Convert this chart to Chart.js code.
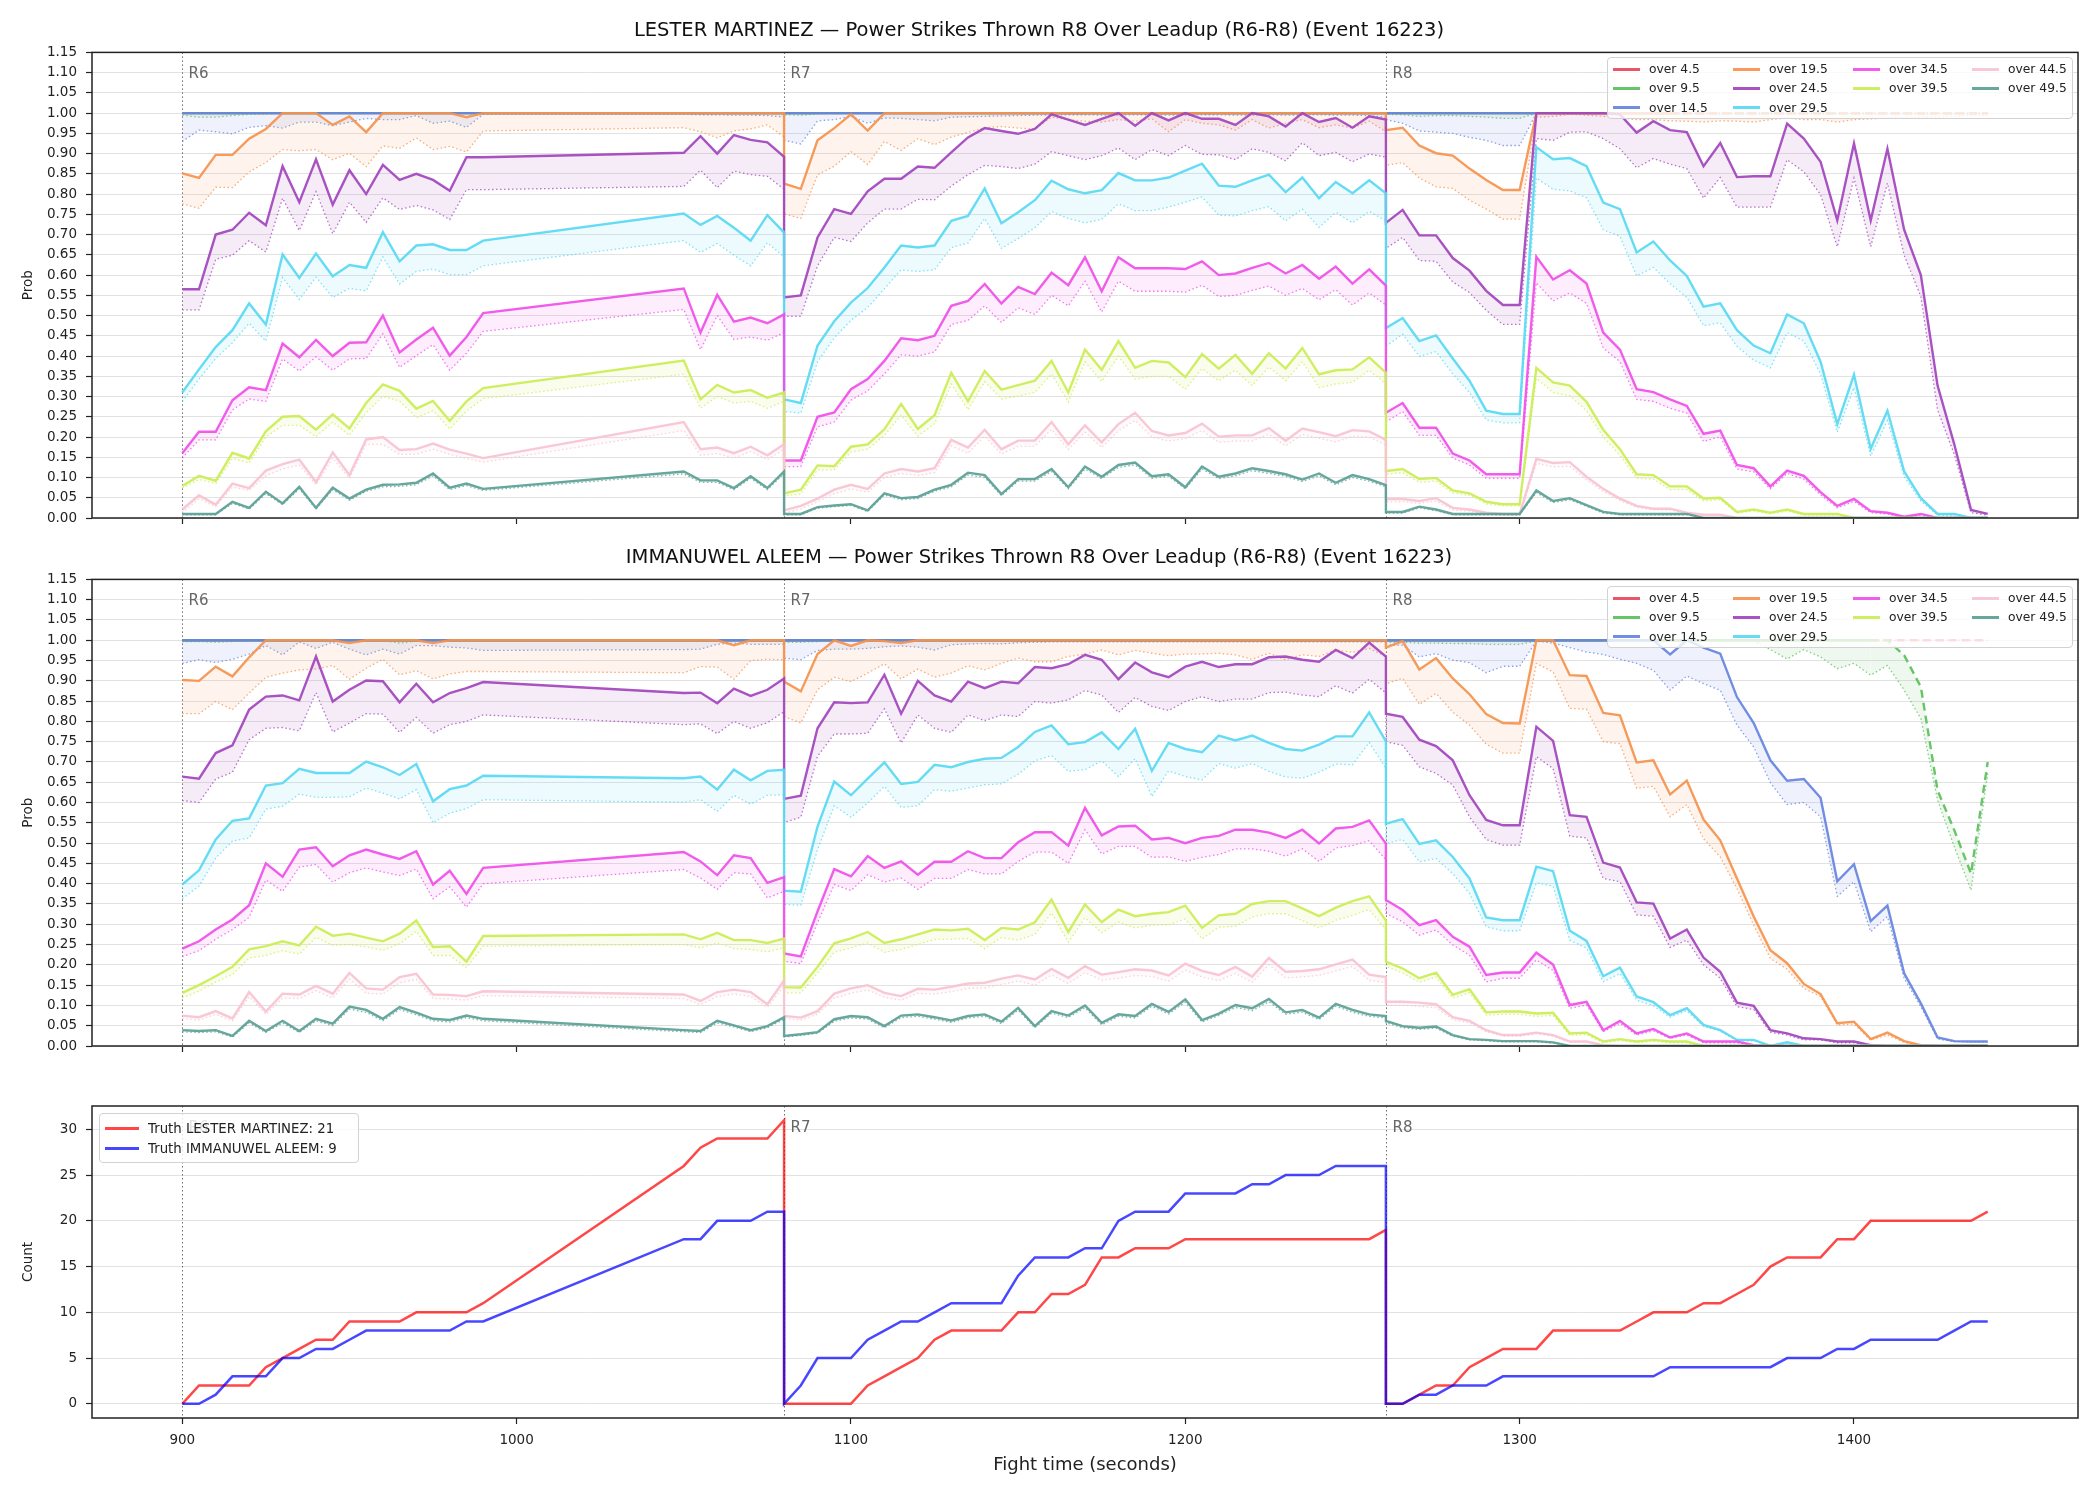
<!DOCTYPE html>
<html>
<head>
<meta charset="utf-8">
<title>Power Strikes Thrown R8 Over Leadup</title>
<script src="https://cdn.jsdelivr.net/npm/chart.js@4.4.1/dist/chart.umd.min.js"></script>
<style>
  body { margin: 0; background: #fff; font-family: "DejaVu Sans", sans-serif; }
  #page { position: relative; width: 2100px; height: 1500px; overflow: hidden; }
  .panel { position: absolute; left: 0; }
  .legend { position: absolute; z-index: 2; box-sizing: border-box; background: rgba(255,255,255,0.8);
            border: 1px solid #d2d2d2; border-radius: 4px; color: #222; display: grid; }
  .legend .item { display: flex; align-items: center; white-space: nowrap; }
  .legend .swatch { height: 3px; margin-right: 9px; }
  #warn { position: absolute; left: 4px; top: 4px; color: red; font-size: 12px; z-index: 5; }
</style>
</head>
<body>
<div id="page">
  <div class="panel" style="top:0"><canvas id="lesterChart" width="2100" height="560"></canvas></div>
  <div class="panel" style="top:527px"><canvas id="aleemChart" width="2100" height="543"></canvas></div>
  <div class="panel" style="top:1070px"><canvas id="truthChart" width="2100" height="430"></canvas></div>
  <div class="legend" id="lesterLegend" style="left:1607px; top:57px; width:466px; height:62px"></div>
  <div class="legend" id="aleemLegend" style="left:1607px; top:586px; width:466px; height:62px"></div>
  <div class="legend" id="truthLegend" style="left:99px; top:1113px; width:260px; height:50px"></div>
  <div id="warn"></div>
</div>
<script>
// sample times (seconds), one list per round
const timesR6 = [900,905,910,915,920,925,930,935,940,945,950,955,960,965,970,975,980,985,990,
                 1050,1055,1060,1065,1070,1075,1080];
const timesR7 = [1080,1085,1090,1095,1100,1105,1110,1115,1120,1125,1130,1135,1140,1145,1150,1155,1160,1165,1170,1175,
                 1180,1185,1190,1195,1200,1205,1210,1215,1220,1225,1230,1235,1240,1245,1250,1255,1260];
const timesR8 = [1260,1265,1270,1275,1280,1285,1290,1295,1300,1305,1310,1315,1320,1325,1330,1335,1340,1345,1350,1355,
                 1360,1365,1370,1375,1380,1385,1390,1395,1400,1405,1410,1415,1420,1425,1430,1435,1440];
const fightTimes = timesR6.concat(timesR7, timesR8);

const thresholds = ['over 4.5','over 9.5','over 14.5','over 19.5','over 24.5','over 29.5','over 34.5','over 39.5','over 44.5','over 49.5'];
const lineColors = ['#e8475f','#5bbf5b','#6684e0','#f5934d','#a244bd','#58d9f2','#f04ee9','#cbee55','#f8c3d1','#5a9f95'];
const roundStarts = [900, 1080, 1260];
const roundLabels = ['R6', 'R7', 'R8'];
const timeTicks = [900, 1000, 1100, 1200, 1300, 1400];
const probTicks = [0,0.05,0.1,0.15,0.2,0.25,0.3,0.35,0.4,0.45,0.5,0.55,0.6,0.65,0.7,0.75,0.8,0.85,0.9,0.95,1,1.05,1.1,1.15];
const countTicks = [0, 5, 10, 15, 20, 25, 30];

// ---- LESTER MARTINEZ: line (solid) and lower estimate (dotted) ----
const lm4 = [1,1,1,1,1, 1,1,1,1,1, 1,1,1,1,1, 1,1,1,1, 1,1,1,1,1,1,1,
  1,1,1,1,1,1,1,1,1,1, 1,1,1,1,1,1,1,1,1,1, 1,1,1,1,1,1,1,1,1,1, 1,1,1,1,1,1,1,
  1,1,1,1,1,1,1,1,1,1, 1,1,1,1,1,1,1,1,1,1, 1,1,1,1,1,1,1,1,1,1, 1,1,1,1,1,1,1];
const lm4Lo = [1,1,1,1,1, 1,1,1,1,1, 1,1,1,1,1, 1,1,1,1, 1,1,1,1,1,1,1,
  1,1,1,1,1,1,1,1,1,1, 1,1,1,1,1,1,1,1,1,1, 1,1,1,1,1,1,1,1,1,1, 1,1,1,1,1,1,1,
  1,1,1,1,1,1,1,1,1,1, 1,1,1,1,1,1,1,1,1,1, 1,1,1,1,1,1,1,1,1,1, 1,1,1,1,1,1,1];
const lm9 = [1,1,1,1,1, 1,1,1,1,1, 1,1,1,1,1, 1,1,1,1, 1,1,1,1,1,1,1,
  1,1,1,1,1,1,1,1,1,1, 1,1,1,1,1,1,1,1,1,1, 1,1,1,1,1,1,1,1,1,1, 1,1,1,1,1,1,1,
  1,1,1,1,1,1,1,1,1,1, 1,1,1,1,1,1,1,1,1,1, 1,1,1,1,1,1,1,1,1,1, 1,1,1,1,1,1,1];
const lm9Lo = [0.995,0.99,0.99,0.994,0.997,0.998,1,1,1,1,1,1,1,1,1,1,1,1,1, 1,1,1,1,1,1,0.998,
  0.996,0.995,0.998, 1,1,1,1,1,1,1, 1,1,1,1,1,1,1,1,1,1, 1,1,1,1,1,1,1,1,1,1, 1,1,1,1,1,1,1,
  0.997,0.996,0.992,0.994,0.994,0.992,0.99,0.987,0.987, 1,1,1,1,1,1,1,1,1,1, 1,1,1,1,1,1,1,1,1,1, 1,1,1,1,1,1,1,1];
const lm14 = [1,1,1,1,1, 1,1,1,1,1, 1,1,1,1,1, 1,1,1,1, 1,1,1,1,1,1,1,
  1,1,1,1,1,1,1,1,1,1, 1,1,1,1,1,1,1,1,1,1, 1,1,1,1,1,1,1,1,1,1, 1,1,1,1,1,1,1,
  1,1,1,1,1,1,1,1,1,1, 1,1,1,1,1,1,1,1,1,1, 1,1,1,1,1,1,1,1,1,1, 1,1,1,1,1,1,1];
const lm14Lo = [0.93,0.958,0.954,0.949,0.965,0.969,0.963,0.978,0.978,0.969,0.978,0.987,0.984,0.984,0.994,0.975,0.98,0.965,0.997,
  0.997,0.996,0.996,0.995,0.995,0.994,0.99,
  0.933,0.924,0.981,0.984,0.992,0.975,0.988,0.987,0.984,0.981, 0.99,0.991,0.992,0.993,0.994,0.995,0.995,0.996,0.996,0.995,
  0.995,0.996,0.996,0.995,0.995,0.996,0.996,0.995,0.995,0.996, 0.995,0.995,0.996,0.995,0.995,0.994,0.99,
  0.984,0.975,0.956,0.953,0.95,0.94,0.933,0.92,0.92,1, 0.998,0.998,0.998,0.998,0.998,0.998,0.998,0.998,0.998,0.998,
  0.998,0.998,0.998,0.998,0.998,0.998,0.998,0.998,0.998,0.998, 0.998,0.998,0.998,0.998,0.998,0.998,0.998];
const lm19 = [0.851,0.84,0.897,0.897,0.937,0.961,1,1,1,0.971,0.992,0.953,1,1,1,1,1,0.99,1, 1,1,1,1,1,1,1,
  0.826,0.813,0.933,0.963,0.997,0.957,1, 1,1,1,1,1,1,1,1,1,1, 1,1,1,1,1,1,1,1,1,1, 1,1,1,1,1,1,1,1,1,1,
  0.958,0.964,0.92,0.901,0.895,0.863,0.835,0.81,0.81, 1,1,1,1,1,1,1,1,1,1, 1,1,1,1,1,1,1,1,1,1, 1,1,1,1,1,1,1,1];
const lm19Lo = [0.776,0.765,0.817,0.816,0.855,0.878,0.91,0.907,0.91,0.885,0.901,0.868,0.919,0.913,0.939,0.91,0.918,0.904,0.956,
  0.964,0.954,0.939,0.956,0.961,0.971,0.941,
  0.751,0.74,0.848,0.869,0.905,0.873,0.93,0.908,0.937,0.922,0.941,0.952,0.964,0.967,0.963,0.961,0.99,0.984,0.98,0.978,
  0.984,0.98,0.986,0.954,0.984,0.975,0.971,0.958,0.984,0.963,0.975,0.984,0.964,0.971,0.963,0.98,0.954,
  0.871,0.878,0.84,0.818,0.814,0.785,0.763,0.738,0.738,0.99,0.992,0.997,0.995,0.992,0.988,0.984,0.984,0.981,0.98,0.978,
  0.981,0.98,0.978,0.984,0.988,0.984,0.984,0.978,0.984,0.986,0.988,0.988,0.99,0.99,0.992,0.994,0.995];
const lm24 = [0.565,0.565,0.70,0.712,0.754,0.723,0.869,0.78,0.886,0.774,0.859,0.80,0.872,0.835,0.85,0.835,0.808,0.891,0.891,
  0.902,0.943,0.90,0.946,0.934,0.928,0.892,
  0.545,0.55,0.693,0.763,0.751,0.807,0.838,0.838,0.868,0.865,0.903,0.94,0.963,0.956,0.949,0.961,0.997,0.984,0.971,0.986,
  1,0.969,1,0.982,1,0.986,0.986,0.971,1,0.992,0.967,1,0.978,0.988,0.964,0.992,0.984,
  0.729,0.761,0.698,0.698,0.642,0.611,0.561,0.526,0.526,1,1,1,1,1,0.997,0.952,0.98,0.958,0.953,0.869,
  0.926,0.842,0.844,0.844,0.974,0.937,0.88,0.735,0.925,0.735,0.912,0.712,0.60,0.327,0.182,0.02,0.01];
const lm24Lo = [0.514,0.514,0.639,0.649,0.685,0.657,0.79,0.71,0.806,0.702,0.78,0.73,0.791,0.762,0.772,0.761,0.737,0.811,0.811,
  0.819,0.859,0.816,0.857,0.848,0.844,0.812,
  0.498,0.498,0.623,0.693,0.683,0.729,0.763,0.763,0.787,0.786,0.82,0.848,0.871,0.868,0.863,0.874,0.905,0.895,0.885,0.895,
  0.914,0.885,0.91,0.895,0.92,0.898,0.897,0.885,0.912,0.903,0.882,0.927,0.895,0.903,0.88,0.899,0.891,
  0.666,0.693,0.636,0.634,0.583,0.557,0.513,0.478,0.478,0.937,0.933,0.953,0.954,0.937,0.912,0.865,0.888,0.874,0.863,0.79,
  0.841,0.768,0.768,0.768,0.885,0.855,0.799,0.67,0.84,0.67,0.827,0.649,0.547,0.267,0.157,0.013,0.007];
const lm29 = [0.31,0.367,0.422,0.464,0.53,0.478,0.651,0.593,0.653,0.597,0.625,0.618,0.706,0.634,0.673,0.676,0.662,0.662,0.685,
  0.752,0.724,0.746,0.717,0.685,0.748,0.705,
  0.293,0.284,0.426,0.486,0.532,0.568,0.619,0.673,0.668,0.673,0.734,0.746,0.814,0.728,0.755,0.785,0.833,0.812,0.802,0.81,
  0.852,0.834,0.834,0.841,0.858,0.875,0.821,0.818,0.834,0.848,0.805,0.841,0.79,0.83,0.802,0.834,0.802,
  0.469,0.494,0.437,0.451,0.394,0.339,0.265,0.257,0.257,0.916,0.886,0.889,0.869,0.779,0.763,0.656,0.683,0.636,0.598,0.522,
  0.53,0.464,0.426,0.407,0.503,0.481,0.386,0.232,0.354,0.171,0.265,0.115,0.049,0.01,0.01,0,0];
const lm29Lo = [0.288,0.343,0.394,0.433,0.481,0.437,0.594,0.54,0.595,0.545,0.567,0.561,0.645,0.578,0.609,0.615,0.601,0.601,0.623,
  0.685,0.656,0.678,0.649,0.623,0.68,0.645,
  0.263,0.259,0.386,0.445,0.488,0.52,0.566,0.613,0.609,0.613,0.668,0.679,0.74,0.666,0.69,0.717,0.757,0.74,0.729,0.738,
  0.776,0.759,0.759,0.768,0.78,0.793,0.748,0.746,0.759,0.769,0.734,0.763,0.718,0.755,0.729,0.757,0.734,
  0.424,0.454,0.399,0.411,0.356,0.31,0.242,0.235,0.235,0.84,0.812,0.808,0.791,0.712,0.696,0.598,0.619,0.579,0.545,0.475,
  0.482,0.424,0.39,0.371,0.458,0.437,0.356,0.212,0.322,0.153,0.241,0.102,0.042,0.007,0.005,0,0];
const lm34 = [0.16,0.213,0.213,0.291,0.323,0.316,0.431,0.397,0.44,0.40,0.433,0.434,0.50,0.409,0.441,0.47,0.401,0.447,0.506,
  0.567,0.458,0.551,0.485,0.495,0.481,0.503,
  0.142,0.142,0.25,0.261,0.318,0.343,0.388,0.444,0.439,0.45,0.524,0.536,0.578,0.53,0.571,0.553,0.606,0.575,0.644,0.56,
  0.644,0.617,0.617,0.617,0.615,0.634,0.60,0.604,0.618,0.63,0.604,0.625,0.591,0.621,0.579,0.614,0.574,
  0.26,0.284,0.223,0.223,0.159,0.142,0.108,0.108,0.108,0.645,0.589,0.612,0.579,0.458,0.416,0.318,0.311,0.293,0.277,0.208,
  0.216,0.131,0.123,0.078,0.117,0.104,0.064,0.03,0.047,0.017,0.013,0.003,0.01,0,0,0,0];
const lm34Lo = [0.148,0.193,0.193,0.267,0.294,0.288,0.393,0.363,0.398,0.365,0.393,0.394,0.455,0.372,0.401,0.428,0.365,0.407,0.461,
  0.515,0.416,0.50,0.441,0.447,0.439,0.458,
  0.127,0.127,0.225,0.237,0.291,0.314,0.356,0.403,0.40,0.41,0.478,0.488,0.524,0.483,0.519,0.503,0.55,0.524,0.585,0.509,
  0.585,0.56,0.56,0.56,0.558,0.575,0.547,0.55,0.562,0.573,0.55,0.567,0.539,0.564,0.526,0.556,0.526,
  0.237,0.263,0.204,0.204,0.148,0.131,0.098,0.098,0.098,0.581,0.536,0.556,0.53,0.42,0.386,0.293,0.288,0.271,0.259,0.189,
  0.201,0.121,0.114,0.072,0.11,0.096,0.057,0.025,0.041,0.013,0.01,0.002,0.007,0,0,0,0];
const lm39 = [0.079,0.104,0.092,0.161,0.147,0.214,0.25,0.252,0.218,0.256,0.221,0.284,0.33,0.314,0.27,0.289,0.24,0.288,0.321,
  0.389,0.293,0.329,0.31,0.316,0.297,0.31,
  0.061,0.07,0.13,0.128,0.176,0.182,0.219,0.282,0.22,0.254,0.359,0.288,0.363,0.317,0.328,0.339,0.388,0.31,0.416,0.366,
  0.437,0.371,0.388,0.384,0.348,0.405,0.369,0.403,0.356,0.407,0.369,0.42,0.355,0.365,0.367,0.397,0.359,
  0.116,0.121,0.096,0.099,0.068,0.061,0.04,0.034,0.034,0.371,0.335,0.327,0.287,0.218,0.17,0.108,0.106,0.078,0.078,0.048,
  0.05,0.015,0.021,0.013,0.021,0.01,0.01,0.01,0,0,0,0,0,0,0,0,0];
const lm39Lo = [0.074,0.095,0.085,0.147,0.136,0.20,0.229,0.229,0.201,0.237,0.204,0.26,0.30,0.289,0.248,0.265,0.22,0.264,0.295,
  0.355,0.271,0.30,0.284,0.288,0.271,0.288,
  0.055,0.059,0.119,0.119,0.163,0.17,0.204,0.254,0.202,0.233,0.331,0.267,0.337,0.294,0.301,0.31,0.356,0.286,0.386,0.337,
  0.40,0.343,0.35,0.35,0.318,0.369,0.339,0.365,0.327,0.373,0.339,0.386,0.322,0.331,0.335,0.365,0.331,
  0.108,0.112,0.088,0.091,0.062,0.056,0.035,0.03,0.03,0.345,0.31,0.302,0.265,0.2,0.155,0.098,0.096,0.07,0.07,0.042,
  0.045,0.012,0.017,0.01,0.017,0.007,0.007,0.007,0,0,0,0,0,0,0,0,0];
const lm44 = [0.021,0.056,0.033,0.085,0.074,0.117,0.133,0.144,0.089,0.162,0.106,0.194,0.20,0.168,0.17,0.184,0.169,0.159,0.148,
  0.237,0.17,0.174,0.16,0.176,0.155,0.182,
  0.019,0.03,0.048,0.07,0.082,0.072,0.11,0.121,0.115,0.123,0.193,0.174,0.218,0.17,0.191,0.191,0.237,0.182,0.229,0.187,
  0.232,0.26,0.215,0.204,0.21,0.233,0.201,0.204,0.204,0.222,0.191,0.221,0.212,0.202,0.217,0.214,0.193,
  0.047,0.047,0.042,0.049,0.025,0.021,0.013,0.01,0.01,0.146,0.136,0.138,0.102,0.072,0.048,0.03,0.023,0.023,0.013,0.008,
  0.008,0,0,0,0,0,0,0,0,0,0,0,0,0,0,0,0];
const lm44Lo = [0.013,0.047,0.028,0.076,0.068,0.104,0.121,0.131,0.082,0.148,0.098,0.182,0.182,0.157,0.157,0.17,0.157,0.147,0.138,
  0.216,0.155,0.159,0.148,0.164,0.144,0.17,
  0.012,0.022,0.04,0.06,0.072,0.064,0.1,0.11,0.105,0.112,0.178,0.16,0.202,0.158,0.177,0.177,0.219,0.169,0.212,0.174,
  0.215,0.241,0.2,0.19,0.196,0.216,0.187,0.19,0.19,0.207,0.178,0.206,0.197,0.188,0.202,0.2,0.18,
  0.04,0.04,0.036,0.042,0.02,0.017,0.01,0.007,0.007,0.135,0.126,0.128,0.094,0.066,0.043,0.026,0.02,0.02,0.01,0.006,
  0.006,0,0,0,0,0,0,0,0,0,0,0,0,0,0,0,0];
const lm49 = [0.01,0.01,0.01,0.04,0.025,0.065,0.036,0.077,0.025,0.075,0.048,0.07,0.082,0.083,0.087,0.11,0.075,0.085,0.072,
  0.115,0.093,0.093,0.074,0.103,0.074,0.115,
  0.01,0.01,0.027,0.031,0.034,0.019,0.061,0.049,0.052,0.07,0.082,0.112,0.106,0.059,0.096,0.096,0.121,0.076,0.127,0.102,
  0.131,0.137,0.103,0.108,0.076,0.127,0.102,0.11,0.123,0.116,0.108,0.095,0.11,0.087,0.106,0.096,0.081,
  0.015,0.015,0.028,0.021,0.01,0.01,0.01,0.01,0.01,0.068,0.042,0.049,0.032,0.015,0.01,0.01,0.01,0.01,0.01,0,
  0,0,0,0,0,0,0,0,0,0,0,0,0,0,0,0,0];
const lm49Lo = [0.008,0.008,0.008,0.036,0.022,0.06,0.033,0.072,0.022,0.07,0.044,0.066,0.077,0.078,0.082,0.104,0.07,0.08,0.068,
  0.109,0.088,0.088,0.07,0.098,0.07,0.109,
  0.008,0.008,0.024,0.028,0.031,0.016,0.057,0.045,0.048,0.066,0.077,0.106,0.1,0.055,0.091,0.091,0.115,0.072,0.121,0.097,
  0.125,0.131,0.098,0.103,0.072,0.121,0.097,0.104,0.117,0.11,0.103,0.09,0.104,0.082,0.1,0.091,0.077,
  0.012,0.012,0.025,0.018,0.008,0.008,0.008,0.008,0.008,0.063,0.038,0.045,0.029,0.012,0.008,0.008,0.008,0.008,0.008,0,
  0,0,0,0,0,0,0,0,0,0,0,0,0,0,0,0,0];

// ---- IMMANUWEL ALEEM ----
const ia4 = [1,1,1,1,1, 1,1,1,1,1, 1,1,1,1,1, 1,1,1,1, 1,1,1,1,1,1,1,
  1,1,1,1,1,1,1,1,1,1, 1,1,1,1,1,1,1,1,1,1, 1,1,1,1,1,1,1,1,1,1, 1,1,1,1,1,1,1,
  1,1,1,1,1,1,1,1,1,1, 1,1,1,1,1,1,1,1,1,1, 1,1,1,1,1,1,1,1,1,1, 1,1,1,1,1,1,1];
const ia4Lo = [1,1,1,1,1, 1,1,1,1,1, 1,1,1,1,1, 1,1,1,1, 1,1,1,1,1,1,1,
  1,1,1,1,1,1,1,1,1,1, 1,1,1,1,1,1,1,1,1,1, 1,1,1,1,1,1,1,1,1,1, 1,1,1,1,1,1,1,
  1,1,1,1,1,1,1,1,1,1, 1,1,1,1,1,1,1,1,1,1, 1,1,1,1,1,1,1,1,1,1, 1,1,1,1,1,1,1];
const ia9 = [1,1,1,1,1, 1,1,1,1,1, 1,1,1,1,1, 1,1,1,1, 1,1,1,1,1,1,1,
  1,1,1,1,1,1,1,1,1,1, 1,1,1,1,1,1,1,1,1,1, 1,1,1,1,1,1,1,1,1,1, 1,1,1,1,1,1,1,
  1,1,1,1,1,1,1,1,1,1, 1,1,1,1,1,1,1,1,1,1, 1,1,1,1,1,1,1,1,1,1, 1,0.963,0.885,0.63,0.532,0.425,0.70];
const ia9Lo = [0.997,0.997,0.995,0.997,0.998,1,1,1,1,1,1,1,1,0.993,0.998,1,1,1,1, 1,1,1,1,1,1,1,
  0.995,0.995,0.997, 1,1,1,1,1,1,1, 1,1,1,1,1,1,1,1,1,1, 1,1,1,1,1,1,1,1,1,1, 1,1,1,1,1,1,1,
  0.995,0.995,0.993,0.993,0.992,0.992,0.99,0.99,0.99, 0.998,0.998,0.998,0.998,0.998,0.998,0.998,0.998,0.998,0.998,0.998,0.998,0.998,0.998,
  0.977,0.954,0.977,0.959,0.93,0.943,0.914,0.938,0.877,0.807,0.606,0.491,0.384,0.672];
const ia14 = [1,1,1,1,1, 1,1,1,1,1, 1,1,1,1,1, 1,1,1,1, 1,1,1,1,1,1,1,
  1,1,1,1,1,1,1,1,1,1, 1,1,1,1,1,1,1,1,1,1, 1,1,1,1,1,1,1,1,1,1, 1,1,1,1,1,1,1,
  1,1,1,1,1,1,1,1,1,1, 1,1,1,1,1,1,1, 0.965,1,0.982,0.967,0.86,0.796,0.704,0.654,0.658,0.612,
  0.406,0.448,0.308,0.346,0.179,0.105,0.021,0.012,0.011,0.011];
const ia14Lo = [0.943,0.952,0.945,0.953,0.966,0.987,0.964,0.996,0.98,0.995,0.978,0.964,0.978,0.966,0.987,0.987,0.983,0.981,0.975,
  0.977,0.978,0.99,0.993,0.99,0.99,0.99,
  0.956,0.952,0.975,0.978,0.978,0.98,0.984,0.986,0.983,0.976,0.989,0.991,0.992,0.991,0.994,0.995,
  0.996,0.996,0.996,0.996,0.996,0.996,0.996,0.996,0.996,0.996,0.996,0.996,0.996,0.996,0.996,0.996,0.996,0.996,0.996,0.996,0.996,
  0.988,0.988,0.959,0.967,0.951,0.945,0.92,0.936,0.936,0.998,0.993,0.982,0.971,0.965,0.953,0.943,0.926,0.877,0.912,0.893,
  0.877,0.791,0.737,0.649,0.595,0.60,0.565,0.369,0.405,0.282,0.319,0.167,0.097,0.017,0.011,0.01,0.01];
const ia19 = [0.902,0.90,0.935,0.911,0.958,1,1,1,1,1,0.993,1,1,1,1,0.993,1,1,1, 1,1,1,0.988,1,1,1,
  0.898,0.874,0.966,1,0.986,1,0.998,0.993,1, 1,1,1,1,1,1,1,1,1,1, 1,1,1,1,1,1,1,1,1,1, 1,1,1,1,1,1,1,1,
  0.982,0.998,0.928,0.956,0.906,0.867,0.818,0.796,0.795,1,1,0.914,0.912,0.821,0.815,0.699,0.704,0.62,0.654,0.558,
  0.507,0.413,0.319,0.236,0.204,0.153,0.128,0.056,0.06,0.017,0.033,0.012,0.002,0,0,0,0];
const ia19Lo = [0.819,0.819,0.849,0.829,0.87,0.909,0.919,0.927,0.929,0.938,0.904,0.931,0.953,0.915,0.925,0.905,0.917,0.923,0.923,
  0.92,0.935,0.934,0.904,0.95,0.953,0.952,
  0.812,0.796,0.878,0.909,0.898,0.919,0.942,0.905,0.929,0.909,0.919,0.937,0.927,0.943,0.956,0.947,0.947,0.96,0.966,0.976,
  0.964,0.975,0.968,0.962,0.966,0.966,0.968,0.964,0.953,0.968,0.952,0.964,0.96,0.976,0.97,0.98,0.96,
  0.893,0.906,0.842,0.869,0.823,0.791,0.744,0.722,0.722,0.943,0.922,0.832,0.83,0.75,0.745,0.635,0.64,0.565,0.595,0.511,
  0.466,0.388,0.298,0.216,0.189,0.142,0.122,0.052,0.054,0.015,0.027,0.009,0.001,0,0,0,0];
const ia24 = [0.664,0.659,0.722,0.741,0.829,0.861,0.864,0.852,0.96,0.849,0.878,0.901,0.899,0.847,0.893,0.847,0.87,0.882,0.897,
  0.87,0.871,0.845,0.881,0.863,0.878,0.906,
  0.609,0.617,0.783,0.847,0.845,0.847,0.915,0.819,0.90,0.864,0.849,0.898,0.882,0.898,0.894,0.934,0.931,0.941,0.964,0.952,
  0.904,0.945,0.921,0.909,0.935,0.947,0.934,0.941,0.941,0.958,0.96,0.952,0.947,0.976,0.956,0.994,0.96,
  0.819,0.811,0.755,0.739,0.704,0.618,0.557,0.544,0.544,0.787,0.752,0.569,0.565,0.452,0.44,0.354,0.351,0.265,0.287,0.218,
  0.183,0.107,0.099,0.039,0.031,0.019,0.017,0.011,0.011,0.002,0,0,0,0,0,0,0];
const ia24Lo = [0.605,0.60,0.658,0.675,0.755,0.783,0.785,0.777,0.871,0.774,0.796,0.819,0.818,0.773,0.81,0.771,0.792,0.80,0.816,
  0.792,0.794,0.77,0.80,0.783,0.797,0.824,
  0.551,0.564,0.714,0.769,0.769,0.771,0.831,0.747,0.816,0.783,0.773,0.816,0.802,0.816,0.812,0.849,0.845,0.853,0.876,0.865,
  0.822,0.859,0.837,0.827,0.849,0.861,0.849,0.855,0.855,0.871,0.872,0.865,0.861,0.888,0.87,0.904,0.87,
  0.75,0.741,0.688,0.672,0.643,0.565,0.509,0.495,0.495,0.713,0.684,0.517,0.513,0.413,0.405,0.323,0.32,0.243,0.261,0.20,
  0.167,0.097,0.09,0.034,0.027,0.015,0.015,0.008,0.008,0.001,0,0,0,0,0,0,0];
const ia29 = [0.398,0.433,0.509,0.555,0.561,0.642,0.648,0.683,0.673,0.673,0.673,0.701,0.687,0.668,0.695,0.603,0.633,0.642,0.666,
  0.66,0.664,0.632,0.681,0.655,0.678,0.681,
  0.383,0.38,0.541,0.652,0.618,0.659,0.699,0.646,0.651,0.693,0.687,0.70,0.708,0.71,0.737,0.774,0.79,0.744,0.749,0.773,
  0.732,0.782,0.678,0.747,0.732,0.724,0.765,0.753,0.765,0.747,0.732,0.728,0.743,0.763,0.763,0.822,0.751,
  0.548,0.559,0.498,0.507,0.466,0.413,0.317,0.31,0.31,0.442,0.431,0.284,0.259,0.172,0.193,0.122,0.108,0.076,0.093,0.052,
  0.039,0.015,0.015,0,0.009,0,0,0,0,0,0,0,0,0,0,0,0];
const ia29Lo = [0.363,0.394,0.463,0.505,0.513,0.584,0.591,0.621,0.613,0.613,0.614,0.636,0.623,0.609,0.632,0.55,0.574,0.585,0.607,
  0.601,0.607,0.578,0.618,0.596,0.618,0.619,
  0.349,0.347,0.484,0.592,0.564,0.599,0.64,0.588,0.592,0.632,0.628,0.636,0.644,0.646,0.67,0.703,0.716,0.677,0.681,0.703,
  0.664,0.708,0.615,0.678,0.664,0.656,0.696,0.685,0.696,0.677,0.663,0.66,0.675,0.695,0.693,0.748,0.685,
  0.499,0.509,0.454,0.462,0.425,0.376,0.294,0.284,0.284,0.402,0.394,0.261,0.241,0.158,0.179,0.113,0.099,0.071,0.087,0.048,
  0.037,0.013,0.013,0,0.007,0,0,0,0,0,0,0,0,0,0,0,0];
const ia34 = [0.24,0.258,0.287,0.312,0.347,0.45,0.417,0.484,0.49,0.443,0.47,0.484,0.472,0.461,0.48,0.398,0.432,0.375,0.439,
  0.478,0.455,0.421,0.47,0.463,0.402,0.416,
  0.228,0.221,0.332,0.436,0.418,0.468,0.439,0.455,0.422,0.454,0.454,0.48,0.463,0.463,0.502,0.527,0.527,0.494,0.587,0.519,
  0.541,0.543,0.509,0.513,0.50,0.513,0.518,0.533,0.533,0.526,0.513,0.533,0.499,0.536,0.54,0.556,0.499,
  0.36,0.335,0.298,0.31,0.269,0.245,0.175,0.181,0.181,0.23,0.201,0.101,0.109,0.039,0.062,0.031,0.042,0.021,0.031,0.011,
  0.011,0.011,0.002,0,0,0,0,0,0,0,0,0,0,0,0,0,0];
const ia34Lo = [0.22,0.235,0.263,0.287,0.317,0.409,0.381,0.441,0.447,0.404,0.427,0.439,0.429,0.42,0.436,0.363,0.392,0.342,0.40,
  0.435,0.414,0.386,0.427,0.424,0.365,0.381,
  0.209,0.203,0.304,0.398,0.383,0.422,0.404,0.414,0.386,0.413,0.413,0.435,0.424,0.424,0.455,0.478,0.478,0.45,0.533,0.473,
  0.492,0.492,0.465,0.466,0.455,0.465,0.472,0.486,0.486,0.48,0.468,0.486,0.455,0.488,0.494,0.506,0.459,
  0.327,0.306,0.273,0.286,0.249,0.224,0.158,0.167,0.167,0.212,0.186,0.093,0.101,0.035,0.056,0.027,0.037,0.019,0.027,0.008,
  0.008,0.008,0.001,0,0,0,0,0,0,0,0,0,0,0,0,0,0];
const ia39 = [0.131,0.15,0.172,0.195,0.238,0.246,0.258,0.248,0.294,0.272,0.277,0.267,0.258,0.277,0.309,0.244,0.246,0.208,0.271,
  0.275,0.263,0.279,0.261,0.261,0.254,0.265,
  0.145,0.144,0.195,0.253,0.265,0.281,0.254,0.263,0.275,0.287,0.285,0.289,0.261,0.291,0.287,0.305,0.361,0.281,0.349,0.305,
  0.336,0.32,0.326,0.33,0.346,0.291,0.322,0.326,0.35,0.357,0.357,0.339,0.32,0.341,0.357,0.369,0.309,
  0.208,0.191,0.167,0.181,0.126,0.14,0.083,0.085,0.085,0.08,0.082,0.031,0.033,0.011,0.017,0.011,0.015,0.011,0.011,0,
  0,0,0,0,0,0,0,0,0,0,0,0,0,0,0,0,0];
const ia39Lo = [0.119,0.135,0.158,0.176,0.217,0.223,0.235,0.226,0.268,0.248,0.25,0.244,0.236,0.252,0.283,0.223,0.223,0.193,0.246,
  0.25,0.242,0.254,0.24,0.238,0.232,0.242,
  0.131,0.131,0.18,0.231,0.242,0.254,0.231,0.238,0.25,0.263,0.263,0.265,0.24,0.267,0.261,0.275,0.328,0.256,0.316,0.279,
  0.305,0.291,0.298,0.299,0.313,0.264,0.293,0.295,0.318,0.326,0.326,0.309,0.291,0.31,0.322,0.336,0.287,
  0.196,0.18,0.157,0.17,0.118,0.131,0.076,0.078,0.078,0.073,0.075,0.026,0.028,0.008,0.013,0.008,0.011,0.008,0.008,0,
  0,0,0,0,0,0,0,0,0,0,0,0,0,0,0,0,0];
const ia44 = [0.075,0.071,0.086,0.068,0.133,0.085,0.129,0.127,0.148,0.129,0.18,0.142,0.139,0.17,0.178,0.127,0.126,0.123,0.135,
  0.127,0.111,0.133,0.139,0.133,0.103,0.162,
  0.074,0.07,0.086,0.129,0.142,0.15,0.131,0.123,0.141,0.139,0.146,0.154,0.156,0.166,0.174,0.164,0.19,0.168,0.197,0.176,
  0.182,0.189,0.186,0.174,0.203,0.185,0.175,0.195,0.171,0.217,0.183,0.185,0.189,0.201,0.213,0.176,0.17,
  0.109,0.109,0.107,0.103,0.071,0.062,0.039,0.027,0.027,0.033,0.027,0.011,0.011,0.002,0,0,0,0,0,0,
  0,0,0,0,0,0,0,0,0,0,0,0,0,0,0,0,0];
const ia44Lo = [0.068,0.064,0.078,0.062,0.122,0.078,0.118,0.117,0.136,0.118,0.165,0.13,0.128,0.156,0.164,0.117,0.116,0.113,0.124,
  0.117,0.102,0.122,0.128,0.122,0.095,0.148,
  0.067,0.064,0.078,0.118,0.13,0.138,0.12,0.113,0.13,0.128,0.134,0.142,0.143,0.152,0.16,0.15,0.175,0.154,0.181,0.162,
  0.167,0.174,0.171,0.16,0.187,0.17,0.161,0.179,0.157,0.2,0.168,0.17,0.174,0.185,0.196,0.162,0.156,
  0.1,0.1,0.098,0.094,0.065,0.057,0.035,0.024,0.024,0.03,0.024,0.009,0.009,0.001,0,0,0,0,0,0,
  0,0,0,0,0,0,0,0,0,0,0,0,0,0,0,0,0];
const ia49 = [0.039,0.037,0.039,0.025,0.062,0.037,0.062,0.037,0.067,0.055,0.097,0.089,0.067,0.096,0.082,0.067,0.064,0.075,0.067,
  0.039,0.037,0.062,0.051,0.039,0.049,0.071,
  0.025,0.029,0.034,0.066,0.074,0.071,0.049,0.075,0.078,0.071,0.063,0.074,0.078,0.06,0.094,0.049,0.086,0.075,0.10,0.057,
  0.078,0.074,0.104,0.084,0.115,0.064,0.08,0.101,0.093,0.116,0.083,0.089,0.07,0.104,0.089,0.078,0.074,
  0.062,0.049,0.045,0.048,0.027,0.017,0.015,0.012,0.012,0.012,0.009,0,0,0,0,0,0,0,0,0,
  0,0,0,0,0,0,0,0,0,0,0,0,0,0,0,0,0];
const ia49Lo = [0.035,0.033,0.035,0.022,0.057,0.033,0.057,0.033,0.062,0.05,0.091,0.083,0.062,0.09,0.077,0.062,0.059,0.07,0.062,
  0.035,0.033,0.057,0.047,0.035,0.045,0.066,
  0.022,0.026,0.031,0.061,0.069,0.066,0.045,0.07,0.073,0.066,0.058,0.069,0.073,0.055,0.088,0.045,0.081,0.07,0.094,0.052,
  0.073,0.069,0.098,0.079,0.108,0.059,0.075,0.095,0.087,0.109,0.078,0.083,0.065,0.098,0.083,0.073,0.069,
  0.057,0.045,0.041,0.044,0.024,0.015,0.013,0.01,0.01,0.01,0.007,0,0,0,0,0,0,0,0,0,
  0,0,0,0,0,0,0,0,0,0,0,0,0,0,0,0,0];

// ---- truth counts ----
const lesterTruth = [0,2,2,2,2,4,5,6,7,7,9,9,9,9,10,10,10,10,11, 26,28,29,29,29,29,31,
  0,0,0,0,0,2,3,4,5,7,8,8,8,8,10,10,12,12,13,16,16,17,17,17,18, 18,18,18,18,18,18,18,18,18,18,18, 19,
  0,0,1,2,2,4,5,6,6,6,8,8,8,8,8,9,10,10,10,11,11,12,13,15,16,16,16,18,18,20, 20,20,20,20,20,20,21];
const aleemTruth = [0,0,1,3,3,3,5,5,6,6,7,8,8,8,8,8,8,9,9, 18,18,20,20,20,21,21,
  0,2,5,5,5,7,8,9,9,10,11,11,11,11,14,16,16,16,17,17,20,21,21,21,23,23,23,23,24,24,25,25,25,26,26,26,26,
  0,0,1,1,2, 2,2,3,3,3, 3,3,3,3,3,3,3, 4,4,4,4,4,4,4, 5,5,5, 6,6, 7,7,7,7,7, 8,9,9];

const lesterSolid = [lm4, lm9, lm14, lm19, lm24, lm29, lm34, lm39, lm44, lm49];
const lesterLow = [lm4Lo, lm9Lo, lm14Lo, lm19Lo, lm24Lo, lm29Lo, lm34Lo, lm39Lo, lm44Lo, lm49Lo];
const aleemSolid = [ia4, ia9, ia14, ia19, ia24, ia29, ia34, ia39, ia44, ia49];
const aleemLow = [ia4Lo, ia9Lo, ia14Lo, ia19Lo, ia24Lo, ia29Lo, ia34Lo, ia39Lo, ia44Lo, ia49Lo];

// quick length check
const bad = [];
lesterSolid.concat(lesterLow, aleemSolid, aleemLow, [lesterTruth, aleemTruth]).forEach((arr, i) => {
  if (arr.length !== fightTimes.length) bad.push(i + ':' + arr.length);
});
if (bad.length) document.getElementById('warn').textContent = 'length mismatch ' + bad.join(' ');

Chart.defaults.font.family = '"DejaVu Sans", sans-serif';
Chart.defaults.color = '#222';

function withAlpha(hex, a) {
  const n = parseInt(hex.slice(1), 16);
  return `rgba(${n >> 16},${(n >> 8) & 255},${n & 255},${a})`;
}

function pointsOf(values) {
  return fightTimes.map((t, j) => ({ x: t, y: values[j] }));
}

function probDatasets(solids, lows, dashFrom, dashedIdx) {
  const sets = [];
  thresholds.forEach((name, i) => {
    const color = lineColors[i];
    const lowIndex = sets.length + 1;
    const solid = {
      label: name,
      data: pointsOf(solids[i]),
      borderColor: withAlpha(color, 0.92),
      borderWidth: 2.4,
      fill: { target: lowIndex, above: withAlpha(color, 0.1), below: withAlpha(color, 0.1) },
      order: (thresholds.length - i) * 2
    };
    if (dashedIdx.includes(i)) {
      solid.segment = { borderDash: c => (c.p0.parsed.x >= dashFrom ? [8, 5] : undefined) };
    }
    sets.push(solid);
    sets.push({
      label: name + ' low',
      data: pointsOf(lows[i]),
      borderColor: withAlpha(color, 0.75),
      borderWidth: 1.3,
      borderDash: [1.5, 2.5],
      fill: false,
      order: (thresholds.length - i) * 2 + 1
    });
  });
  return sets;
}

// round separators, round names and the full frame
const frame = {
  id: 'frame',
  beforeDatasetsDraw(chart) {
    const { ctx, chartArea: area, scales: { x } } = chart;
    ctx.save();
    ctx.font = '15px "DejaVu Sans"';
    ctx.textBaseline = 'middle';
    roundStarts.forEach((t, i) => {
      const px = Math.round(x.getPixelForValue(t)) + 0.5;
      ctx.strokeStyle = 'rgba(70,70,70,0.8)';
      ctx.lineWidth = 1;
      ctx.setLineDash([1.5, 2.5]);
      ctx.beginPath();
      ctx.moveTo(px, area.top);
      ctx.lineTo(px, area.bottom);
      ctx.stroke();
      ctx.fillStyle = '#666';
      ctx.fillText(roundLabels[i], px + 6, area.top + 22);
    });
    ctx.restore();
  },
  afterDraw(chart) {
    const { ctx, chartArea: a } = chart;
    ctx.save();
    ctx.strokeStyle = '#222';
    ctx.lineWidth = 1.5;
    ctx.strokeRect(a.left, a.top, a.right - a.left, a.bottom - a.top);
    ctx.restore();
  }
};

function timeAxis(showLabels, height) {
  return {
    type: 'linear', min: 873, max: 1467,
    afterBuildTicks: s => { s.ticks = timeTicks.map(v => ({ value: v })); },
    afterFit: s => { s.height = height; },
    grid: { drawOnChartArea: false, tickLength: 6, tickColor: '#222', tickWidth: 1.2 },
    border: { display: false },
    ticks: { display: showLabels, autoSkip: false, maxRotation: 0, padding: 8, font: { size: 13.5 }, color: '#222',
             callback: v => String(v) },
    title: { display: showLabels, text: 'Fight time (seconds)', font: { size: 18 }, color: '#222',
             padding: { top: 0, bottom: 24 } }
  };
}

function valueAxis(min, max, tickValues, label, fmt) {
  return {
    type: 'linear', min: min, max: max,
    afterBuildTicks: s => { s.ticks = tickValues.map(v => ({ value: v })); },
    afterFit: s => { s.width = 92; },
    grid: { color: '#e2e2e2', lineWidth: 1, tickLength: 6, tickColor: '#222', tickWidth: 1.2 },
    border: { display: false },
    ticks: { autoSkip: false, padding: 9, font: { size: 13.5 }, color: '#222', callback: fmt },
    title: { display: true, text: label, font: { size: 13.5 }, color: '#222', padding: { top: 20, bottom: 0 } }
  };
}

const baseOptions = {
  responsive: false,
  animation: false,
  devicePixelRatio: 1,
  events: [],
  elements: { point: { radius: 0 }, line: { tension: 0 } }
};

function probChart(id, title, solids, lows, dashFrom, dashedIdx, xHeight) {
  return new Chart(document.getElementById(id), {
    type: 'line',
    data: { datasets: probDatasets(solids, lows, dashFrom, dashedIdx) },
    options: Object.assign({}, baseOptions, {
      layout: { padding: { left: 0, right: 22, top: 0, bottom: 0 } },
      plugins: {
        legend: { display: false },
        tooltip: { enabled: false },
        title: { display: true, text: title, color: '#111', font: { size: 19.5, weight: 'normal' },
                 padding: { top: 19, bottom: 10 } }
      },
      scales: { x: timeAxis(false, xHeight), y: valueAxis(0, 1.15, probTicks, 'Prob', v => v.toFixed(2)) }
    }),
    plugins: [frame]
  });
}

probChart('lesterChart', 'LESTER MARTINEZ \u2014 Power Strikes Thrown R8 Over Leadup (R6-R8) (Event 16223)',
          lesterSolid, lesterLow, 1345, [0, 1, 2, 3], 42);
probChart('aleemChart', 'IMMANUWEL ALEEM \u2014 Power Strikes Thrown R8 Over Leadup (R6-R8) (Event 16223)',
          aleemSolid, aleemLow, 1405, [0, 1], 24);

const truthNames = ['Truth LESTER MARTINEZ: 21', 'Truth IMMANUWEL ALEEM: 9'];
const truthColors = ['rgba(255,0,0,0.72)', 'rgba(0,0,255,0.72)'];

new Chart(document.getElementById('truthChart'), {
  type: 'line',
  data: {
    datasets: [
      { label: truthNames[0], data: pointsOf(lesterTruth), borderColor: truthColors[0], borderWidth: 2.5, fill: false, order: 2 },
      { label: truthNames[1], data: pointsOf(aleemTruth), borderColor: truthColors[1], borderWidth: 2.5, fill: false, order: 1 }
    ]
  },
  options: Object.assign({}, baseOptions, {
    layout: { padding: { left: 0, right: 22, top: 36, bottom: 0 } },
    plugins: { legend: { display: false }, tooltip: { enabled: false } },
    scales: { x: timeAxis(true, 82), y: valueAxis(-1.55, 32.55, countTicks, 'Count', v => String(v)) }
  }),
  plugins: [frame]
});

// legends drawn as HTML boxes inside the plot areas
const probSlots = [[0,0],[0,1],[0,2],[1,0],[1,1],[1,2],[2,0],[2,1],[3,0],[3,1]];

function buildLegend(id, names, colors, slots, cols, rows, swatchW, fontSize, pad) {
  const box = document.getElementById(id);
  box.style.gridTemplateColumns = cols;
  box.style.gridTemplateRows = rows;
  box.style.padding = pad;
  box.style.fontSize = fontSize;
  names.forEach((name, i) => {
    const item = document.createElement('div');
    item.className = 'item';
    item.style.gridColumn = String(slots[i][0] + 1);
    item.style.gridRow = String(slots[i][1] + 1);
    item.innerHTML = `<span class="swatch" style="width:${swatchW}px; background:${colors[i]}"></span><span>${name}</span>`;
    box.appendChild(item);
  });
}

const probColors = lineColors.map(c => withAlpha(c, 0.92));
buildLegend('lesterLegend', thresholds, probColors, probSlots, '120px 120px 119px 100px', 'repeat(3, 19.3px)', 27, '12.3px', '1.5px 0 0 5px');
buildLegend('aleemLegend', thresholds, probColors, probSlots, '120px 120px 119px 100px', 'repeat(3, 19.3px)', 27, '12.3px', '1.5px 0 0 5px');
buildLegend('truthLegend', truthNames, truthColors, [[0,0],[0,1]], '250px', 'repeat(2, 20px)', 34, '13.3px', '4px 0 0 5px');
</script>
</body>
</html>
